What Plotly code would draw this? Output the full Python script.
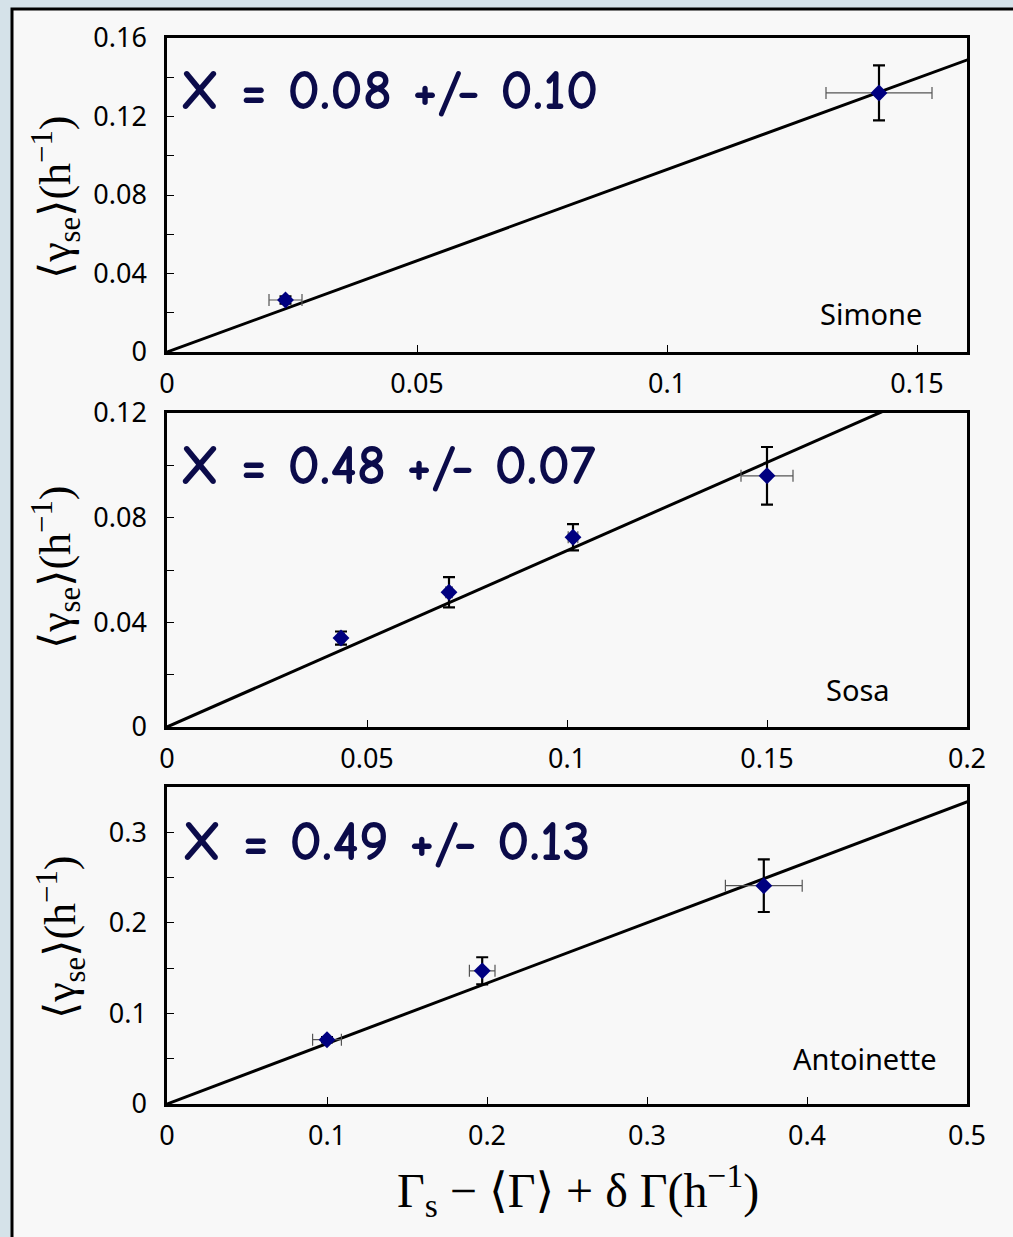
import plotly.graph_objects as go

W, H = 1013, 1237

# ---- data -------------------------------------------------------------
names = ["Simone", "Sosa", "Antoinette"]
fit_labels = ["X = 0.08 +/- 0.10", "X = 0.48 +/- 0.07", "X = 0.49 +/- 0.13"]

simone_x = [0.0237, 0.1424]
simone_y = [0.0265, 0.132]
simone_xerr = [0.0033, 0.0106]
simone_yerr = [0.0018, 0.014]

sosa_x = [0.0435, 0.0705, 0.1015, 0.150]
sosa_y = [0.034, 0.0515, 0.0725, 0.096]
sosa_xerr = [0.0008, 0.0008, 0.0012, 0.0065]
sosa_yerr = [0.0025, 0.0058, 0.005, 0.011]

antoinette_x = [0.100, 0.197, 0.373]
antoinette_y = [0.071, 0.147, 0.241]
antoinette_xerr = [0.009, 0.008, 0.024]
antoinette_yerr = [0.003, 0.015, 0.029]

fit_slopes = [0.93, 0.674, 0.667]

x_ranges = [[0, 0.16], [0, 0.2], [0, 0.5]]
y_ranges = [[0, 0.16], [0, 0.12], [0, 0.35]]
x_dticks = [0.05, 0.05, 0.1]
y_dticks = [0.04, 0.04, 0.1]
y_minor = [0.02, 0.02, 0.05]

datasets = [
    (simone_x, simone_y, simone_xerr, simone_yerr),
    (sosa_x, sosa_y, sosa_xerr, sosa_yerr),
    (antoinette_x, antoinette_y, antoinette_xerr, antoinette_yerr),
]

# ---- layout helpers (pixel -> paper) -----------------------------------
ML, MR, MT, MB = 40, 30, 30, 30
PW, PH = W - ML - MR, H - MT - MB

def px(x):
    return (x - ML) / PW

def py(y):
    return 1 - (y - MT) / PH

plot_left, plot_right = 167, 967
plot_boxes = [(38, 352), (413, 727), (787, 1104)]

BG = "#d5e2e9"
PANEL = "#f8f8f8"
NAVY = "#000080"
TEXT_NAVY = "#0b0b4a"
TICK_FONT = dict(family="Noto Sans, Open Sans, sans-serif", size=27, color="black")
SERIF = "Liberation Serif, DejaVu Serif, serif"

fig = go.Figure()

for i, (xs, ys, xe, ye) in enumerate(datasets):
    n = "" if i == 0 else str(i + 1)
    xa, ya = "x" + n, "y" + n
    # fitted line through the origin
    xl = [0, x_ranges[i][1] * 1.2]
    fig.add_trace(go.Scatter(
        x=xl, y=[fit_slopes[i] * v for v in xl], mode="lines",
        line=dict(color="black", width=3), xaxis=xa, yaxis=ya,
        showlegend=False, hoverinfo="skip"))
    # measurements with error bars
    fig.add_trace(go.Scatter(
        x=xs, y=ys, mode="markers",
        marker=dict(symbol="diamond", size=13, color=NAVY),
        error_x=dict(type="data", array=xe, color="#555555", thickness=1.2, width=6),
        error_y=dict(type="data", array=ye, color="black", thickness=2.2, width=6),
        xaxis=xa, yaxis=ya, showlegend=False))

layout_axes = {}
for i in range(3):
    n = "" if i == 0 else str(i + 1)
    top, bot = plot_boxes[i]
    layout_axes["xaxis" + n] = dict(
        domain=[px(plot_left), px(plot_right)], anchor="y" + n,
        range=x_ranges[i], dtick=x_dticks[i], tick0=0, automargin=False,
        showline=True, linecolor="black", linewidth=2.5, mirror=True,
        ticks="inside", ticklen=7, tickcolor="black", tickwidth=1,
        showgrid=False, zeroline=False, tickfont=TICK_FONT,
        ticklabelstandoff=6)
    layout_axes["yaxis" + n] = dict(
        domain=[py(bot), py(top)], anchor="x" + n,
        range=y_ranges[i], dtick=y_dticks[i], tick0=0, automargin=False,
        showline=True, linecolor="black", linewidth=2.5, mirror=True,
        ticks="inside", ticklen=7, tickcolor="black", tickwidth=1,
        minor=dict(dtick=y_minor[i], ticks="inside", ticklen=7,
                   tickcolor="black", tickwidth=1),
        showgrid=False, zeroline=False, tickfont=TICK_FONT,
        ticklabelstandoff=12)

annotations = []
fit_pos = [(178, 90), (178, 465), (180, 841)]
name_pos = [(871, 314), (858, 689), (865, 1058)]
ytitle_pos = [(56, 197), (56, 567), (61, 937)]
for i in range(3):
    annotations.append(dict(
        x=px(fit_pos[i][0]), y=py(fit_pos[i][1]), xref="paper", yref="paper",
        text=fit_labels[i], showarrow=False, xanchor="left", yanchor="middle",
        font=dict(family="Comic Sans MS, Comic Neue, Lato, sans-serif", size=57,
                  color=TEXT_NAVY, weight="bold")))
    annotations.append(dict(
        x=px(name_pos[i][0]), y=py(name_pos[i][1]), xref="paper", yref="paper",
        text=names[i], showarrow=False, xanchor="center", yanchor="middle",
        font=dict(family="Noto Sans, Open Sans, sans-serif", size=29, color="black")))
    annotations.append(dict(
        x=px(ytitle_pos[i][0]), y=py(ytitle_pos[i][1]), xref="paper", yref="paper",
        text="⟨γ<sub>se</sub>⟩(h<sup>−1</sup>)", showarrow=False, textangle=-90,
        xanchor="center", yanchor="middle",
        font=dict(family=SERIF, size=44, color="black")))

annotations.append(dict(
    x=px(578), y=py(1190), xref="paper", yref="paper",
    text="Γ<sub>s</sub> − ⟨Γ⟩ + δ Γ(h<sup>−1</sup>)", showarrow=False,
    xanchor="center", yanchor="middle",
    font=dict(family=SERIF, size=48, color="black")))

shapes = [dict(
    type="rect", xref="paper", yref="paper",
    x0=px(12), x1=px(W + 20), y0=py(H + 20), y1=py(9),
    fillcolor=PANEL, line=dict(color="black", width=3), layer="below")]

fig.update_layout(
    width=W, height=H, autosize=False,
    margin=dict(l=ML, r=MR, t=MT, b=MB, pad=0),
    paper_bgcolor=BG, plot_bgcolor=PANEL,
    annotations=annotations, shapes=shapes,
    **layout_axes)

fig.write_html("out.html")
